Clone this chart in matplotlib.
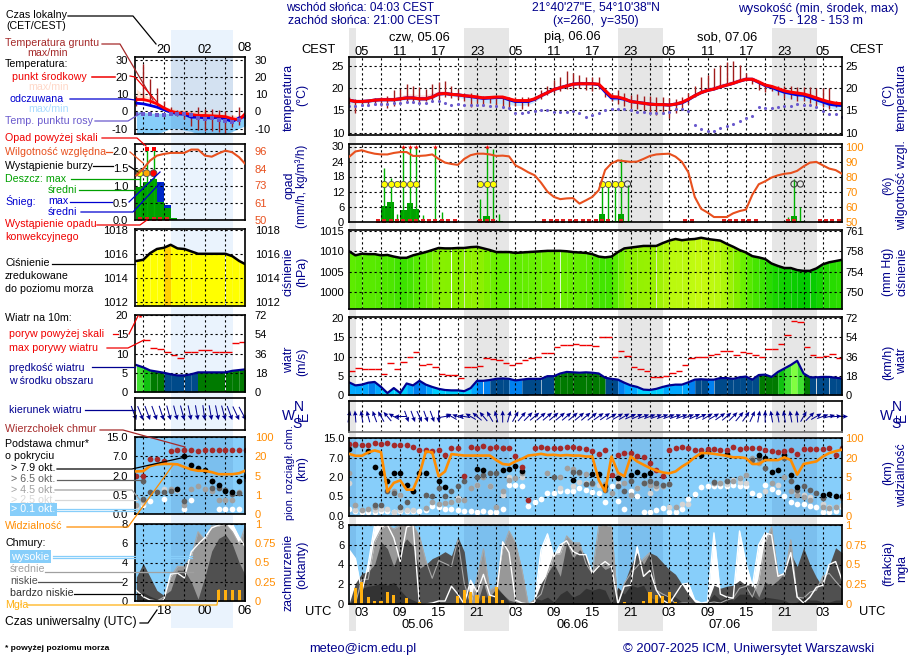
import numpy as np
import matplotlib
matplotlib.use('Agg')
import matplotlib.pyplot as plt
from matplotlib.lines import Line2D

plt.rcParams['font.family'] = ['Liberation Sans', 'DejaVu Sans']
W, H = 910, 660
FS = 9.0
TFS = 8.0
LFS = 7.7
NAVY = '#00008b'
ORANGE = '#ff8c00'
RHC = '#e8501e'
SKY = '#87cefa'

# ---------------------- main meteogram, hourly from 01 UTC 05.06 ----------------------
t_mean = [17.3,17.0,17.0,17.1,17.3,17.4,17.4,17.4,17.6,17.8,17.8,17.6,17.6,18.0,18.7,18.8,18.6,18.5,18.3,18.2,18.0,17.8,17.9,18.0,18.0,17.6,17.2,17.2,17.2,17.6,18.3,19.0,19.7,20.1,20.5,20.9,21.0,21.0,21.0,20.9,19.5,18.1,18.0,17.6,17.0,16.8,16.6,16.4,16.3,16.3,16.2,16.4,16.8,17.5,18.3,19.0,19.5,19.8,20.3,20.7,21.1,21.6,22.0,22.0,21.4,20.7,20.4,19.9,19.4,19.1,18.9,18.7,18.3,17.8,17.3,16.9,16.6,16.5]
t_app = [17.3,17.0,17.0,17.1,17.3,17.4,17.4,17.4,17.6,17.8,17.8,17.6,17.6,18.0,18.7,18.8,18.6,18.5,18.3,18.1,17.9,17.7,17.8,17.9,17.9,17.4,17.0,17.0,17.0,17.5,18.3,19.0,19.7,20.1,20.5,20.9,21.0,21.0,21.0,20.8,19.2,17.8,17.8,17.5,17.0,16.8,16.6,16.4,16.3,16.3,16.2,16.4,16.7,17.4,18.3,19.0,19.5,19.8,20.3,20.7,21.1,21.6,22.0,22.0,21.3,20.6,20.2,19.6,19.1,18.8,18.5,18.4,17.9,17.4,16.9,16.4,16.2,16.1]
t_hi = [17.5,17.3,17.3,17.5,17.8,18.0,18.0,18.0,18.3,18.7,18.7,18.5,18.5,19.0,19.4,19.4,19.1,18.9,18.6,18.4,18.2,18.0,18.2,18.3,18.3,17.9,17.6,17.6,17.7,18.1,18.8,19.6,20.2,20.7,21.1,21.5,21.6,21.5,21.4,21.2,19.9,18.5,18.4,18.0,17.4,17.2,17.0,16.8,16.7,16.7,16.6,16.9,17.3,18.0,18.8,19.7,20.2,20.5,21.0,21.4,21.8,22.3,22.7,22.6,22.0,21.2,20.8,20.3,19.8,19.5,19.3,19.1,18.7,18.2,17.7,17.3,17.0,16.9]
t_lo = [16.8,16.6,16.6,16.7,16.9,17.0,17.0,17.0,17.2,17.4,17.4,17.2,17.2,17.6,18.3,18.4,18.2,18.0,17.6,17.3,17.0,16.8,16.6,16.6,16.5,16.3,16.1,16.1,16.3,16.9,17.9,18.7,19.4,19.8,20.3,20.7,20.8,20.8,20.8,20.5,18.8,17.2,17.2,17.1,16.7,16.5,16.3,16.1,16.0,16.0,15.9,16.1,16.4,17.2,18.0,18.8,19.3,19.6,20.1,20.5,20.9,21.4,21.8,21.7,21.0,20.2,19.6,18.8,18.0,17.6,17.3,17.3,17.0,16.5,16.0,15.6,15.2,15.0]
g_max = [18,17.5,17.3,17.3,17.8,18,18.2,19.5,19.8,21,20.5,20.3,19.8,21,21.5,21.7,20.5,19.8,19,18.8,18.6,18.3,18.3,18.3,18.3,18,18,18,18,18.3,19.5,20.5,21.8,22.6,23.8,23.5,23,22.6,22.5,22.5,20,19,19.5,18.8,18.5,18.7,18.3,18.2,18,18,17.8,17.5,18,19,20.5,22.6,23,24.5,25.3,25.8,26.2,25.2,23.5,22.3,21.5,21,20.8,20.5,20.5,20.5,20.3,20.3,20.2,20,20,20,17,16.5]
g_min = [16.5,14.4,16,16,16.2,16,15.6,16,17,16.8,16.8,16.8,17,17.3,17.5,18,17.7,17.6,17,15.8,16.6,16,16.6,16.2,15.8,15.2,16,15.3,16,17,17.5,18.4,19,19.3,19.8,20,20,19.5,19.3,19.8,18,17,16.4,16,15.5,15.3,15,14.5,14,14.2,13.3,14.5,15.5,16.5,18,19,19.5,20,20.5,21,21.3,21.6,21.7,21,19.7,19.2,19.4,18.5,17.8,17.5,17.2,17.2,16.7,16,15.8,15.2,15.7,16]
t_dew = [16,16,16.2,16.3,16.5,16.5,16.5,16.6,16.7,16.9,16.8,16.6,16.7,17,17,16.7,16.2,16.4,16.3,16.3,16.1,16.1,15.9,16,15.7,15.6,14.3,14.4,14.6,14.8,15,15,14.6,14.6,14.7,14.8,14.4,13.5,13.9,14.5,15,15.2,15.2,15.2,15.0,14.7,14.7,14.5,14.5,14.5,14.7,15.2,15.2,14.9,11.8,10.7,10.4,10.4,11.1,11.4,12,12.7,13.2,13.7,15.7,15.6,15.6,15.7,16,16,16.4,16.2,16.2,15.8,14.9,14.2,14.2,13.5]

rh = [93.3,97,97.8,96.5,95.5,95,95,96,96.6,96.6,94,94,94.3,95,92,89.5,88.6,88,92,94.5,95.5,95.5,95,94,94.2,93.7,87.7,85.5,83,81,76,70,66.5,65,65.5,65.7,62,64.2,66.5,71,84.5,89,91,90.5,90,90.2,92,94,95,95.3,95.5,93.5,90,83,66.5,58.5,56,53,53,53,55.5,57,58,68,75,77,79.5,81,82,82.5,84,87,89.5,90,87.7,85.5,84.5,82]
precip_t = [6.5,7.5,8.5,9.5,10.5,11.5,12.5,14.5,15.5,21.5,22.5,23.5,24.5,40.5,41.5,42.5,43.5,44.5,69.5,70.5,71.5]
rain_mean = [6.3,8.0,0.2,4.7,7.6,5.0,0.2,0.2,0.1,0.1,2.2,0.2,0.1,3.2,0.4,0.3,3.0,0.2,0.1,2.2,0.1]
rain_max = [21.5,17.5,3,32,32,32,2.5,32,4,9.2,32,29,3,16,15,16,25,14.5,2,17,6]
storm_t = [6.5,7.5,8.5,9.5,10.5,11.5,21.5,22.5,23.5,40.5,41.5,42.5,43.5]
storm_open_t = [44.5,70.5,71.5]
conv_t = [5.5,6.5,7.5,8.5,9.5,10.5,11.5,12.5,13.5,14.5,15.5,16.5,17.5,21.5,22.5,23.5,31.5,32.5,33.5,34.5,35.5,36.5,37.5,38.5,39.5,40.5,41.5,43.5,53.5,54.5,59.5,60.5,61.5,62.5,63.5,64.5,69.5,70.5,74.5,75.5,76.5,77.5]

pres = [1010,1009,1009.4,1009.3,1009.3,1009,1009.1,1008.7,1008.4,1008.4,1009,1009.4,1009.8,1010.3,1010.8,1010.7,1010.7,1010.8,1010.8,1011,1011.1,1010.7,1010.3,1009.8,1009.8,1009.8,1009.6,1009.7,1009.8,1009.9,1010,1010.1,1010.1,1010.1,1010,1009.8,1009.7,1009.6,1009.3,1008.7,1008.5,1008.7,1009.8,1010.7,1010.9,1011.1,1011.3,1011.3,1011.3,1012,1012.6,1013,1012.7,1012.9,1013,1013.3,1013,1012.8,1012.6,1011.8,1011.1,1010.3,1009.7,1008.8,1008.5,1008.1,1007,1006.4,1005.9,1005.9,1005.4,1005.2,1005.2,1005.8,1006.8,1007.3,1007.6,1007.9]
wind = [3.3,2.5,2.7,3.2,3.4,2.1,0.5,1.8,0.5,3,2.5,3.7,2.7,2.1,1.6,1.3,1.2,1.2,1,1.8,3.7,3.7,3.9,4.2,4.3,4.2,3.8,4,4.2,4.2,4.2,4.9,4.9,5.6,6,5.9,5.8,5.9,5.8,5.6,4.5,4.2,4,3.2,2.5,2.1,1.4,1.3,1.6,2.1,2.5,2.7,2.7,3.3,4,4.1,4,4,4.4,4.4,4.2,4.6,4.8,4,5.2,5.3,4.7,6,6.9,7.8,8.9,5.6,4.6,4.6,4.7,4.7,4.5,4.3]
gust = [6.3,7.1,6.8,6.8,6.8,5.5,8.4,6.8,8.7,10,11.3,7.7,8,7.4,5.5,5.2,5.2,4.5,7.4,7.4,7.6,9.5,9.3,9,8.4,7.9,8.4,9,9.5,9.8,11,11,12.4,13,13,13.3,13,13,12.7,15,15,10,11.5,10.2,7.2,6.7,6.3,4.8,4.8,5,5.8,6.3,7.9,9.5,10,10,10.4,10.7,11.4,11.4,10.3,11.1,10.9,10.4,10,12.1,12.1,13.4,15.5,19.3,19.1,12.5,10.5,10,10.2,10.6,9.7]
wind_to = [10,355,350,345,340,330,320,300,270,160,160,155,160,160,180,80,300,290,280,300,310,320,330,345,0,15,30,40,45,50,50,50,50,50,50,50,50,50,50,55,55,60,60,60,65,65,70,70,70,70,70,70,70,70,65,65,60,60,55,50,45,40,35,25,10,0,350,350,350,350,355,30,45,60,70,75,85,90]

cloud_top = [12.7,12.7,12,12.2,12.8,12.7,13,12.1,12.1,12,11.4,10.2,9.9,9.5,10.2,8.2,10.9,10.9,2.2,11.4,11,11.6,10.9,11.4,11.1,10.9,7.8,4.5,0.4,10.9,11.4,11,10.9,11,11.4,11.4,10.9,10.5,9.5,8.5,10.2,2.6,8.2,8.9,9,7.7,7.3,5.7,3.9,2.3,10.2,10.9,11.4,10.9,10.2,9.9,10.5,10.5,10.2,10.2,11.4,10.5,10.9,10.9,10.9,10.2,9.5,9.2,9.7,10.2,8.5,10.4,10.4,10.4,10.4,10.9,8,10.9]
b79_t = [1,4,5,6,7,8,9,10,11,12,13,15,16,21,22,25,26,27,28,36,39,41,40,43,45,46,47,48,56,57,60,65,66,67,68,69,70,71,75,76,77,78]
b79_km = [10.4,9.5,4.6,3,1.66,2.9,3,1.4,0.9,3,3,1.7,1.2,4,3.9,3.7,4.1,4.7,3.5,1.8,2.8,1.3,2.8,1.9,2.5,3.2,2.5,3,8,9.6,8.5,8,7,3.2,3.7,8,2.4,1.2,0.6,0.7,0.55,0.55]
b65_t = [2,5,6,7,8,9,10,11,13,14,15,16,17,18,19,21,22,23,24,25,33,36,37,38,39,41,43,44,45,47,48,49,50,51,58,60,64,65,66,69,70,71,72,73,74,75]
b65_km = [12,0.28,0.28,0.9,0.76,0.24,0.37,0.9,0.63,0.55,1.15,0.55,0.9,1.3,1.7,2.1,2.6,3,3,10.9,2.1,3.2,3.2,1.5,1.55,1.0,1.3,0.9,1.7,1.55,1.7,1.55,1.4,1.5,1.65,1.7,6.4,6.8,4.3,6.8,1.7,1.0,1.3,1.0,0.76,0.46]
b45_t = [1,2,3,4,5,8,9,13,14,15,16,17,18,19,20,21,22,23,24,25,26,27,28,32,34,35,36,37,38,39,41,42,43,44,45,46,47,48,49,50,51,52,58,59,60,61,62,63,64,65,67,69,70,71,72,73,75,76,77,78]
b45_km = [3,0.28,0.15,0.19,0.24,0.9,0.63,0.2,0.37,0.32,0.33,0.37,0.41,0.4,1.15,1.4,2.1,1.3,0.24,0.9,1.8,1.9,3,3,2,4.3,4,3,2.8,1.5,1.5,0.76,2.6,1.55,0.6,1.15,1.55,1.4,1.3,1.3,1.5,0.24,1.55,1.55,1.7,1.7,1.9,2.6,6.8,5.6,1.55,2.1,0.9,0.63,0.5,0.4,0.24,0.2,0.24,0.46]
b25_t = [1,2,5,6,7,8,9,10,11,18,21,23,25,26,28,34,36,37,38,40,41,43,45,46,48,49,50,51,53,54,58,59,60,61,62,63,66,68,71,72,73,75,76,77,78]
b25_km = [1.55,0.15,0.15,0.19,0.17,0.1,0.15,0.15,0.15,0.46,1.4,1.3,0.63,2.1,2.1,1.15,1.3,1.6,1.55,1.4,1.3,1.55,0.63,1.15,0.76,1.15,1.3,0.24,0.32,0.32,1.55,1.55,1.5,1.8,1.6,1.55,0.9,1.4,0.76,0.6,0.5,0.32,0.24,0.24,0.28]
b01_t = list(range(1, 79))
b01_km = [0.18,0.14,0.1,0.1,0.1,0.13,0.12,0.1,0.12,0.12,0.12,0.13,0.15,0.25,0.22,0.19,0.18,0.15,0.14,0.14,0.1,0.13,0.1,0.1,0.18,1.4,1.4,1.3,0.25,0.35,0.43,0.8,0.8,0.9,0.9,0.95,1.15,1,0.85,0.8,0.35,1.3,0.38,0.18,0.9,0.55,0.1,0.1,0.15,0.2,0.1,0.11,0.17,0.43,0.7,1.2,1.3,1.3,1.3,1.3,1.4,1.3,1.3,0.8,0.6,1.4,1.1,0.85,0.55,0.35,0.32,0.3,0.26,0.22,0.11,0.11,0.13,0.24]
vis = [35,27,27,41,49,42,2,3.8,4.3,2.4,2.4,6.8,45,41,5.5,9.3,34,31,28,28,28,28,28,18,15,14.4,17,19,28,31,35,30,31,28,30,28,28,24,24,4.4,2,24,8.5,5.5,24,17,14.4,11.9,10,8.5,7.8,9.3,13,16,21,38,38,35,31,27,21,21,19.5,15,15,18,18,18,21,18,6.8,15,16,17,24,38,46,52]

high = [5.5,4.6,1.2,4.0,8,8,8,6.7,4.3,7.8,8,0,0,0.1,0.3,0.3,1.8,1,0,2.4,1.2,3,0.9,0.7,6.3,5.2,0.4,0.1,0,0.2,5.5,7.1,4.8,6,6.4,5.3,5,5,3.1,3.8,4.3,3.8,0,1.8,1.9,5.8,2.8,3.4,1.4,0.4,0,1,2,2.1,0.4,0.1,0.2,7.2,1,0.7,0.6,7.4,4.1,1.8,6,7.2,7,2.8,3.1,5.2,0.7,0.1,0.7,1.7,1.9,4,4.3,2.4]
mid = [0,0,2.5,2.5,6.3,7.6,8,7.6,8,8,8,6.9,4.4,2.6,4.4,4.1,3.8,6.5,2.1,0,2.7,5.6,1.4,1.8,5.6,7.4,6.2,3.5,0,0.4,1,3.1,5,5.1,6.9,6.2,6.2,4.1,3.1,7.9,8,7.8,0,2.1,3.1,3.8,4.6,5.2,1.4,1,0.7,0,0.1,0.1,0,0,0.1,0.2,0.1,0.4,0.6,1.6,1.8,0.7,2.4,6.2,7.8,3.1,2.8,6.5,0.7,0.6,1.2,1.4,2.8,3.1,2.3,1.6]
low = [0,2.1,3.1,3.3,4,6.3,5.6,3.8,5.7,6.6,5.9,3.6,4,4.6,4.9,5.3,4.9,6.8,5.3,0,0,2.1,0,1.8,1.0,0.4,0.2,0,0,0.4,2.1,3.1,4.1,2.8,6.2,4.6,5.5,5,3.1,4.1,3.5,3.8,0,2.1,3.9,5.2,4,5.2,4.9,4.2,3.5,3,2,1,0.2,0,0.2,1.9,1.6,1.8,1.9,2.4,1.9,2,0.7,2.2,1.9,2.4,3.1,5.1,3.8,5.7,4,2.7,1.7,3.9,5.7,5.2]
vlow = [0,0.7,1.6,1.8,1.9,2.1,1.9,2.2,1.4,0.7,0.4,0.1,0,0,0,0,0,0,0,0,0.1,0.7,0.7,1.6,1.0,0.2,0,0,0,0.6,0.4,0.7,0.2,1,1.4,0.7,1,1.6,1.4,1.6,1.4,0,1.7,1,1.9,1.7,1.9,0.7,0.4,0.9,1,0.7,0.2,0,0,0,0.2,1,0.4,0.7,0.4,1,1,0.9,0.4,0.7,0.6,0.5,0.4,0,0.2,0.7,0.4,0.4,0.2,0.2,0.4,0.4]
fog_t = [2,3,4,5,6,7,8,10,12,18,19,20,21,22,23,24,25,44,47,48,49,50,51,52]
fog = [0.2,0.28,0.09,0.035,0.035,0.15,0.12,0.08,0.02,0.1,0.18,0.15,0.11,0.1,0.1,0.22,0.05,0.02,0.04,0.15,0.12,0.1,0.15,0.03]

# ---------------------- small reference strip, hourly 14 UTC - 06 UTC ----------------------
l_t = list(range(14, 31))
l_mean = [6.9,6.9,6,4.4,2.1,0.2,-0.8,-1,-1.7,-2.3,-2.3,-2.5,-2.7,-3,-4.2,-4.8,-0.8]
l_app = [4.8,4.4,3.5,2.5,1,-0.4,-1.3,-1.7,-3.3,-3.3,-3.7,-3.7,-3.3,-4.4,-5.8,-3.7,-2.9]
l_hi = [13,10,8,6,3,2,1,1,0.5,0,0,-0.5,-1,-1.5,-2,-2.5,-0.5]
l_app_hi = [0,-0.5,-1,-1,-1,-1,-1.5,-2,-3,-3,-3.2,-3.2,-3,-4,-5,-3,-2]
l_app_lo = [-13.2,-13.2,-13.2,-13.2,-11.5,-9.8,-9.8,-10.8,-11.5,-13.2,-13.2,-13.2,-13.2,-13.2,-11.5,-9.8,-8]
l_gmax = [9,27.5,19,13.6,6,2.5,1,-0.4,-0.4,2.5,1.5,1.5,1,0.5,-2,2.5,-1]
l_gmin = [3,6,3,2.5,1.5,-2.3,-2.9,-4.2,-8.6,-11,-11.4,-11.4,-12,-12.5,-9,-8,-2.3]
l_dew = [-1.5,-1.5,-1.5,-2.3,-2.3,-1.5,-1.5,-1.5,-2.3,-3.6,-4.2,-3.6,-5.2,-5.6,-6.2,-5.2,-3.3]
l_rh = [79.6,84,89.4,92.7,93.8,94.5,94.5,94.5,96.7,96.7,92.7,92,94.2,96,94.9,91.6,86.6]
l_rain_t = [14.5,15.5,16.5,17.5,18.5,19.5]
l_rain = [0.96,1.1,1.18,0.53,0.34,0.07]
l_snow = [0.96,1.1,1.18,1.1,0.43,0.07]
l_rmax_t = [14.5,15.5,16.5]
l_rmax = [1.35,2.5,2.5]
l_storm_colors = ['#ffff00', '#ffa500', '#ff0000']
l_conv_t = [14.5,15.5,16.5,17.5,18.5]
l_pres = [1015.4,1015.5,1016.05,1016.4,1016.5,1016.75,1016.45,1016.4,1016.2,1016,1016,1016,1016,1016,1015.8,1015.4,1015.1]
l_wind = [7,6.4,5.6,5.3,5,4.6,4.3,4.3,4.6,5.1,5.1,5.1,5.1,5.1,5.5,5.7,5.9]
l_gust = [19.8,13.5,11.5,11.1,10.5,9.6,8.8,10.5,10.5,10.9,10.9,10.5,10.5,10.5,12.7,13]
l_wind_to = [160,158,160,160,162,165,165,165,168,170,172,170,168,165,160,155,152]
l_top_t = [14,15,16,17,18,19,20,21,22,23,24,25,26,27,28,29,30]
l_top = [2,2,6.4,6.4,5.8,9.1,9.8,9.8,9.8,9.1,9.8,9.8,9.8,9.8,9.8,9.8,9.8]
l_b79_t = [20,21,22,23,24,25,26,27,28,29,30]
l_b79 = [0.95,7.1,4.8,3.9,3.3,1.55,1.25,0.8,0.7,1.55,1.95]
l_b65_t = [15,15,16,17,18,19,21,25,25,26,27,28,29]
l_b65 = [1.55,0.38,0.7,0.7,0.7,0.8,0.35,1.55,1,1,0.85,0.55,0.6]
l_b45_t = [14,15,19,20,21,22,23,24,25,26,27,28,29,30]
l_b45 = [0.23,0.37,0.95,0.95,0.23,0.95,1.2,0.95,0.8,0.37,0.37,0.37,0.7,1.7]
l_b25_t = [14,15,18,19,20]
l_b25 = [0.19,0.28,0.95,0.9,0.9]
l_b01_t = [15,16,18,21,22,26,27,28,29]
l_b01 = [0.24,0.35,0.4,0.12,0.37,0.12,0.12,0.12,0.12]
l_vis = [8.2,8.4,12.4,13.7,14,14,13.7,11.6,9.7,8.7,8.7,7.6,6,6,6,6.8,9]
l_high = [1.1,0.45,0.1,0,0.1,2.8,2.9,2.4,5.1,5.9,6.6,7.6,7.9,8,8,6.6,5.5]
l_mid = [0,0,0,0,0.4,2.5,3.6,3.6,4.6,7.2,6.3,7.8,7.8,8,7.2,5.9,8]
l_low = [2.5,3.9,2.5,1.1,0.6,1.1,3.2,3.2,2,0.2,2.5,5.2,6.5,6.9,5.9,4,2.5]
l_vlow = [0.6,0.9,0.5,0.2,0,0,0,0,0,0,0,0,0,0,0,0,0]
l_fog_t = [26,27,28,29]
l_fog = [0.14,0.14,0.14,0.14]

# tick labels
km_knots = [0, 0.5, 2, 7, 15]
vis_knots = [0, 1, 5, 20, 100]
pos_knots = [0, 1, 2, 3, 4]
utc_main = ['03','09','15','21','03','09','15','21','03','09','15','21','03']
cest_main = ['05','11','17','23','05','11','17','23','05','11','17','23','05']

fig = plt.figure(figsize=(W/100, H/100), dpi=100, facecolor='white')


def axpx(x0, x1, ytop, ybot, **kw):
    return fig.add_axes([x0/W, 1-ybot/H, (x1-x0)/W, (ybot-ytop)/H], **kw)


def txt(x, y, s, color='black', ha='left', size=FS, **kw):
    fig.text(x/W, 1-y/H, s, color=color, ha=ha, va='center', fontsize=size, **kw)


def conn(xs, ys, color='black', lw=0.9):
    fig.add_artist(Line2D([x/W for x in xs], [1-y/H for y in ys], color=color, lw=lw, transform=fig.transFigure, zorder=6))


def hrs(series, start=1):
    return np.arange(start, start+len(series))


def style(ax, xlim, yticks, ylabels, ylim, xt, lp=3.5):
    ax.set_xlim(*xlim)
    ax.set_ylim(*ylim)
    ax.patch.set_alpha(0)
    ax.set_yticks(yticks)
    ax.set_yticklabels(ylabels, fontsize=TFS)
    ax.set_xticks(xt)
    ax.set_xticklabels([])
    ax.tick_params(length=0, pad=lp)
    ax.set_axisbelow(False)
    ax.grid(True, color='black', lw=0.8, ls=(0, (2, 2.5)))
    for s in ax.spines.values():
        s.set_linewidth(1.2)
        s.set_zorder(8)


def right(ax, yticks, labels, ylim, color='black', pad=2.5):
    a2 = ax.twinx()
    a2.set_ylim(*ylim)
    a2.set_yticks(yticks)
    a2.set_yticklabels(labels, fontsize=TFS, color=color)
    a2.tick_params(length=0, pad=pad)
    a2.patch.set_alpha(0)
    for s in a2.spines.values():
        s.set_visible(False)
    return a2


def pres_color(p):
    k = [1005, 1008, 1009, 1010, 1011, 1013, 1015, 1016.61, 1016.62]
    r = [0, 48, 80, 106, 144, 192, 255, 255, 255]
    g = [200, 224, 232, 240, 240, 250, 255, 255, 208]
    b = [0, 0, 0, 0, 0, 16, 0, 0, 0]
    return (np.interp(p, k, r)/255, np.interp(p, k, g)/255, np.interp(p, k, b)/255)


def wind_color(v):
    edges = [1, 2, 3, 4, 4.9, 5.95, 6.5, 7.5, 8.3]
    cols = ['#00ffff', '#00d0ff', '#00a8ff', '#0080f0', '#004a8a', '#007a00', '#10c010', '#40e030', '#60f030', '#80ff40']
    return cols[int(np.searchsorted(edges, v))]


def band_fill(ax, t, y, base, colfunc):
    for i in range(len(t)-1):
        ax.fill_between(t[i:i+2], y[i:i+2], base, color=colfunc((y[i]+y[i+1])/2), lw=0, zorder=1, antialiased=False)


# --- background strips ---
nights = [(1, 2.05), (19, 26.05), (43, 50.05), (67, 74.05)]
main_x = (1, 78)
bg = axpx(349, 842, 28, 631)
bg.set_xlim(*main_x); bg.axis('off')
for a, b in nights:
    bg.axvspan(a, b, color='#e6e6e6', lw=0)
left_x = (13.8, 29.85)
bgl = axpx(135, 245, 30, 628)
bgl.set_xlim(*left_x); bgl.axis('off')
bgl.axvspan(19, 28.05, color='#eaf3fd', lw=0)

mg = list(range(3, 78, 3))
lg = [15, 18, 21, 24, 27]

# ---------------- MAIN PANELS ----------------
T = hrs(t_mean)
# temperature
ax = axpx(349, 842, 57, 135)
style(ax, main_x, [10, 15, 20, 25], ['10', '15', '20', '25'], (9.44, 27.03), mg)
ax.fill_between(T, t_mean, t_hi, color='#ffdcdc', lw=0, zorder=1)
ax.fill_between(T, t_lo, t_app, color='#c4e6ff', lw=0, zorder=1)
ax.vlines(hrs(g_max), g_min, g_max, color='#a01c1c', lw=1.0, zorder=3)
ax.plot(hrs(t_app), t_app, color='#0000e0', lw=2.2, zorder=3)
ax.plot(T, t_mean, color='#ff0000', lw=2.2, zorder=4)
ax.scatter(hrs(t_dew), t_dew, s=5, color='#6a5acd', marker='o', lw=0, zorder=4)
ax.xaxis.tick_top()
ax.set_xticks(mg)
ax.set_xticklabels([l for i in range(13) for l in (cest_main[i], '')][:len(mg)], fontsize=FS+0.3)
ax.tick_params(axis='x', pad=-0.5)
right(ax, [10, 15, 20, 25], ['10', '15', '20', '25'], (9.44, 27.03))

# precipitation
ax = axpx(349, 842, 144, 221.5)
style(ax, main_x, [0, 6, 12, 18, 24, 30], ['0', '6', '12', '18', '24', '30'], (0, 31), mg)
ax.bar(precip_t, rain_mean, width=1, color='#00a000', lw=0, zorder=2)
ax.vlines(precip_t, 0, np.minimum(rain_max, 30), color='#00b000', lw=1.0, zorder=3)
ax.scatter([p for p, m in zip(precip_t, rain_max) if m > 30], [30]*sum(m > 30 for m in rain_max), s=14, marker='*', color='red', lw=0, zorder=5)
ax.scatter(conv_t, [0.3]*len(conv_t), s=6, marker='s', color='#e02020', lw=0, zorder=5)
ax.scatter(storm_t, [15]*len(storm_t), s=20, facecolor='#ffff00', edgecolor='#505050', lw=0.6, zorder=5)
ax.scatter(storm_open_t, [15]*len(storm_open_t), s=20, facecolor='none', edgecolor='#404040', lw=0.8, zorder=5)
a2 = right(ax, [50, 60, 70, 80, 90, 100], ['50', '60', '70', '80', '90', '100'], (50, 102), color=ORANGE)
a2.plot(hrs(rh), rh, color=RHC, lw=1.5, zorder=6)

# pressure
ax = axpx(349, 842, 230, 308.5)
style(ax, main_x, [1000, 1005, 1010, 1015], ['1000', '1005', '1010', '1015'], (996, 1015.2), mg)
band_fill(ax, hrs(pres), pres, 996, pres_color)
ax.plot(hrs(pres), pres, color='black', lw=1.8, zorder=4)
right(ax, [1000, 1005, 1010, 1015], ['750', '754', '758', '761'], (996, 1015.2))

# wind
ax = axpx(349, 842, 317, 395)
style(ax, main_x, [0, 5, 10, 15, 20], ['0', '5', '10', '15', '20'], (0, 20.3), mg)
band_fill(ax, hrs(wind), wind, 0, wind_color)
ax.plot(hrs(wind), wind, color='#000090', lw=1.6, zorder=4)
ax.hlines(gust, hrs(gust), hrs(gust)+1, color='#f00000', lw=1.0, zorder=4)
right(ax, [0, 5, 10, 15, 20], ['0', '18', '36', '54', '72'], (0, 20.3))

# wind direction
ax = axpx(349, 842, 401, 432)
style(ax, main_x, [], [], (0, 1), mg)
rad = np.deg2rad(wind_to)
ax.quiver(hrs(wind_to), [0.5]*len(wind_to), 12*np.sin(rad), 12*np.cos(rad), angles='uv', scale=1, scale_units='dots',
          units='dots', width=1.0, headwidth=4.5, headlength=5, headaxislength=4.5, pivot='mid', color='#000090', zorder=4, clip_on=False)
ax.spines['bottom'].set_color('#707070')

# cloud heights
def kmf(v): return np.interp(v, km_knots, pos_knots)
def kmi(v): return np.interp(v, pos_knots, km_knots)
def vf(v): return np.interp(v, vis_knots, pos_knots)
def vi(v): return np.interp(v, pos_knots, vis_knots)

def cloud_height_panel(ax, xlim, xt, tops, b79, b65, b45, b25, b01, vs, xvis, size, rpad, lp):
    style(ax, xlim, [0], ['0'], (0, 1), xt, lp)
    ax.set_yscale('function', functions=(kmf, kmi))
    ax.set_ylim(0, 15)
    ax.set_yticks([0, 0.5, 2, 7, 15])
    ax.set_yticklabels(['0.0', '0.5', '2.0', '7.0', '15.0'], fontsize=TFS)
    ax.yaxis.set_minor_locator(matplotlib.ticker.NullLocator())
    ax.tick_params(length=0, pad=lp)
    ax.patch.set_alpha(1); ax.patch.set_facecolor(SKY)
    for (tt, vv), c in zip([b01, b25, b45, b65, b79], ['white', '#d4d4d4', '#a0a0a0', '#606060', 'black']):
        ax.scatter(tt, vv, s=size, color=c, lw=0, zorder=3)
    ax.scatter(tops[0], tops[1], s=size, color='#a52a2a', lw=0, zorder=3)
    a2 = ax.twinx()
    a2.set_yscale('function', functions=(vf, vi))
    a2.set_ylim(0, 100)
    a2.set_yticks([0, 1, 5, 20, 100])
    a2.set_yticklabels(['0', '1', '5', '20', '100'], fontsize=TFS, color=ORANGE)
    a2.yaxis.set_minor_locator(matplotlib.ticker.NullLocator())
    a2.tick_params(length=0, pad=rpad)
    a2.patch.set_alpha(0)
    a2.plot(xvis, vs, color=ORANGE, lw=1.9, zorder=5)
    for s in a2.spines.values():
        s.set_visible(False)


def shade_spans(ax, spans):
    for a, b in spans:
        ax.axvspan(a, b, facecolor='#3060a0', alpha=0.13, lw=0, zorder=2.2)

ax = axpx(349, 842, 438, 516)
cloud_height_panel(ax, main_x, mg, (hrs(cloud_top), cloud_top), (b79_t, b79_km), (b65_t, b65_km), (b45_t, b45_km),
                   (b25_t, b25_km), (b01_t, b01_km), vis, hrs(vis), 17, 2.5, 3.5)
shade_spans(ax, nights)

# cloud cover
def clouds_panel(ax, xlim, xt, t, hi, md, lo, vl, ft, fg, fw, spans, lp, rpad):
    style(ax, xlim, [0, 2, 4, 6, 8], ['0', '2', '4', '6', '8'], (0, 8), xt, lp)
    ax.patch.set_alpha(1); ax.patch.set_facecolor(SKY)
    for a, b in spans:
        ax.axvspan(a, b, facecolor='#3060a0', alpha=0.13, lw=0, zorder=0.5)
    ax.fill_between(t, hi, 0, color='white', lw=0, zorder=1)
    ax.fill_between(t, md, 0, color='#989898', lw=0, zorder=1.1)
    ax.fill_between(t, lo, 0, color='#505050', lw=0, zorder=1.2)
    ax.fill_between(t, vl, 0, color='#333333', lw=0, zorder=1.3)
    ax.plot(t, md, color='#a8a8a8', lw=0.8, zorder=1.4)
    ax.plot(t, hi, color='white', lw=1.0, zorder=1.5)
    right(ax, [0, 2, 4, 6, 8], ['0', '0.25', '0.5', '0.75', '1'], (0, 8), color=ORANGE, pad=rpad)
    ax.bar(ft, np.array(fg)*8, width=fw, color='#ffb010', lw=0, zorder=3)

ax = axpx(349, 842, 525, 604)
clouds_panel(ax, main_x, mg, hrs(high), high, mid, low, vlow, fog_t, fog, 0.5, nights, 3.5, 2.5)
ax.set_xticks(mg)
ax.set_xticklabels([l for i in range(13) for l in (utc_main[i], '')][:len(mg)], fontsize=FS+0.3)
ax.tick_params(axis='x', pad=2.5)

# ---------------- LEFT PANELS ----------------
lp, rp = 5, 7
ax = axpx(135, 245, 57, 134.3)
style(ax, left_x, [-10, 0, 10, 20, 30], ['-10', '0', '10', '20', '30'], (-13.2, 31.5), lg, lp)
ax.fill_between(l_t, l_mean, l_hi, color='#ffe2d2', lw=0, zorder=1)
ax.fill_between(l_t, l_app_lo, l_app_hi, color=SKY, lw=0, zorder=1)
ax.axvspan(19, 28.05, facecolor='#3060a0', alpha=0.12, lw=0, zorder=1.1)
ax.vlines(l_t, l_gmin, l_gmax, color='#a01c1c', lw=1.0, zorder=3)
ax.plot(l_t, l_app, color='#0000e0', lw=2.0, zorder=3)
ax.plot(l_t, l_mean, color='#ff0000', lw=2.0, zorder=4)
ax.scatter(l_t, l_dew, s=5, color='#6a5acd', marker='s', lw=0, zorder=4)
ax.xaxis.tick_top()
ax.set_xticks(lg)
ax.set_xticklabels(['', '20', '', '02', ''], fontsize=FS+0.3)
ax.tick_params(axis='x', pad=0.5)
right(ax, [-10, 0, 10, 20, 30], ['-10', '0', '10', '20', '30'], (-13.2, 31.5), pad=rp)

ax = axpx(135, 245, 144, 220)
style(ax, left_x, [0, 0.5, 1, 1.5, 2], ['0.0', '0.5', '1.0', '1.5', '2.0'], (0, 2.21), lg, lp)
ax.bar(l_rain_t, l_snow, width=1, color='#0028c8', lw=0, zorder=2)
ax.bar(l_rain_t, l_rain, width=1, color='#00a000', lw=0, zorder=2.1)
ax.vlines(l_rmax_t, 0, np.minimum(l_rmax, 2.1), color='#00b000', lw=1.0, zorder=3)
ax.scatter(l_rmax_t[1:], [2.07, 2.07], s=10, marker='s', color='red', lw=0, zorder=5)
ax.scatter(l_rmax_t, [1.36]*3, s=24, c=l_storm_colors, edgecolor='#505050', lw=0.6, zorder=5)
ax.scatter(l_conv_t, [0.02]*5, s=5, marker='s', color='#e02020', lw=0, zorder=5)
a2 = right(ax, [50, 61, 73, 84, 96], ['50', '61', '73', '84', '96'], (50, 100.4), color=RHC, pad=rp)
a2.plot(l_t, l_rh, color=RHC, lw=1.5)

ax = axpx(135, 245, 229, 306)
style(ax, left_x, [1012, 1014, 1016, 1018], ['1012', '1014', '1016', '1018'], (1011.64, 1018.07), lg, lp)
band_fill(ax, l_t, l_pres, 1011.64, pres_color)
ax.plot(l_t, l_pres, color='black', lw=1.8, zorder=4)
right(ax, [1012, 1014, 1016, 1018], ['1012', '1014', '1016', '1018'], (1011.64, 1018.07), pad=rp)

ax = axpx(135, 245, 315, 392)
style(ax, left_x, [0, 5, 10, 15, 20], ['0', '5', '10', '15', '20'], (0, 20), lg, lp)
band_fill(ax, l_t, l_wind, 0, wind_color)
ax.plot(l_t, l_wind, color='#000090', lw=1.6, zorder=4)
lgt = np.array(l_t[:len(l_gust)])
ax.hlines(l_gust[1:], lgt[1:], lgt[1:]+1, color='#f00000', lw=1.0, zorder=4)
ax.scatter([14.5], [l_gust[0]], s=10, marker='*', color='red', lw=0, zorder=5)
right(ax, [0, 5, 10, 15, 20], ['0', '18', '36', '54', '72'], (0, 20), pad=rp)

ax = axpx(135, 245, 398, 430)
style(ax, left_x, [], [], (0, 1), lg, lp)
rad = np.deg2rad(l_wind_to)
ax.quiver(l_t, [0.31]*len(l_t), 15*np.sin(rad), 15*np.cos(rad), angles='uv', scale=1, scale_units='dots',
          units='dots', width=1.0, headwidth=5, headlength=5, headaxislength=4.5, pivot='tip', color='#000090', zorder=4, clip_on=False)

ax = axpx(135, 245, 437, 514)
cloud_height_panel(ax, left_x, lg, (l_top_t, l_top), (l_b79_t, l_b79), (l_b65_t, l_b65), (l_b45_t, l_b45),
                   (l_b25_t, l_b25), (l_b01_t, l_b01), l_vis, l_t, 17, rp, lp)
shade_spans(ax, [(19, 28.05)])

ax = axpx(135, 245, 524, 601)
clouds_panel(ax, left_x, lg, l_t, l_high, l_mid, l_low, l_vlow, l_fog_t, l_fog, 0.4, [(19, 28.05)], lp, rp)
ax.set_xticks(lg)
ax.set_xticklabels(['', '18', '', '00', ''], fontsize=FS+0.3)
ax.tick_params(axis='x', pad=3)

# ---------------- TEXT ----------------
txt(245, 48, '08', 'black', 'center', size=FS+0.3)
txt(245, 611, '06', 'black', 'center', size=FS+0.3)
txt(286, 8, 'wschód słońca: 04:03 CEST', NAVY, size=8.45)
txt(288, 21, 'zachód słońca: 21:00 CEST', NAVY, size=8.8)
txt(596, 8, '21°40\'27"E, 54°10\'38"N', NAVY, 'center', size=8.7)
txt(596, 21, '(x=260,  y=350)', NAVY, 'center', size=8.7)
txt(818, 9, 'wysokość (min, środek, max)', NAVY, 'center', size=8.9)
txt(818, 21, '75 - 128 - 153 m', NAVY, 'center', size=8.9)
txt(419, 37, 'czw, 05.06', 'black', 'center', size=FS+0.3)
txt(572, 37, 'pią, 06.06', 'black', 'center', size=FS+0.3)
txt(727, 37, 'sob, 07.06', 'black', 'center', size=FS+0.3)
txt(319, 50, 'CEST', 'black', 'center', size=FS+0.3)
txt(867, 50, 'CEST', 'black', 'center', size=FS+0.3)
txt(318, 612, 'UTC', 'black', 'center', size=FS+0.3)
txt(872, 612, 'UTC', 'black', 'center', size=FS+0.3)
txt(418, 625, '05.06', 'black', 'center', size=FS+0.3)
txt(573, 625, '06.06', 'black', 'center', size=FS+0.3)
txt(725, 625, '07.06', 'black', 'center', size=FS+0.3)
txt(309, 649, 'meteo@icm.edu.pl', NAVY, size=FS+0.3)
txt(623, 649, '© 2007-2025 ICM, Uniwersytet Warszawski', NAVY, size=FS+0.4)
txt(5, 648, '* powyżej poziomu morza', 'black', size=6.1, fontweight='bold')

def rot(x, y, s, size=8.9):
    fig.text(x/W, 1-y/H, s, color=NAVY, ha='center', va='center', rotation=90, fontsize=size)

for x, y, s, z in [(289, 97, 'temperatura', 8.9), (302, 95, '(°C)', 8.9), (289, 185, 'opad', 8.9), (302, 186, '(mm/h, kg/m³/h)', 8.5),
                (289, 272, 'ciśnienie', 8.9), (302, 272, '(hPa)', 8.9), (289, 360, 'wiatr', 8.9), (302, 362, '(m/s)', 8.9),
                (290, 473, 'pion. rozciągł. chm.', 7.9), (302, 469, '(km)', 8.9), (289, 572, 'zachmurzenie', 8.9), (302, 565, '(oktanty)', 8.9),
                (902, 97, 'temperatura', 8.9), (888, 95, '(°C)', 8.9), (902, 185, 'wilgotność wzgl.', 8.9), (888, 185, '(%)', 8.9),
                (902, 272, 'ciśnienie', 8.9), (888, 272, '(mm Hg)', 8.9), (902, 361, 'wiatr', 8.9), (888, 362, '(km/h)', 8.9),
                (902, 475, 'widzialność', 8.9), (888, 473, '(km)', 8.9), (902, 568, 'mgła', 8.9), (888, 563, '(frakcja)', 8.9)]:
    rot(x, y, s, z)

for x, y, s, r in [(288, 416, 'W', 0), (299, 407, 'N', 0), (304, 416, 'E', 90), (297, 424, 'S', 0),
                   (886, 416, 'W', 0), (897, 407, 'N', 0), (902, 417, 'E', 90), (896, 424, 'S', 0)]:
    fig.text(x/W, 1-y/H, s, color=NAVY, ha='center', va='center', rotation=r, fontsize=10)

RED = '#f00000'; BROWN = '#a52a2a'; GREEN = '#00a000'; BLUE = '#0000d0'; SLATE = '#6a5acd'; NV = '#000090'
left_labels = [
    (6, 15, 'Czas lokalny', 'black'), (6, 26, '(CET/CEST)', 'black'),
    (5, 43, 'Temperatura gruntu', BROWN), (27, 53, 'max/min', BROWN), (5, 64, 'Temperatura:', 'black'),
    (12, 77, 'punkt środkowy', RED), (28, 87, 'max/min', '#ffd8c8'), (9, 99, 'odczuwana', BLUE), (28, 109, 'max/min', '#a8dcff'),
    (5, 121, 'Temp. punktu rosy', SLATE), (5, 138, 'Opad powyżej skali', RED), (5, 152, 'Wilgotność względna', RHC),
    (5, 166, 'Wystąpienie burzy', 'black'), (5, 179, 'Deszcz: max', GREEN), (48, 190, 'średni', GREEN),
    (5, 201, 'Śnieg:', BLUE), (48, 201, 'max', BLUE), (48, 212, 'średni', BLUE),
    (5, 224, 'Wystąpienie opadu', RED), (5, 237, 'konwekcyjnego', RED),
    (5, 263, 'Ciśnienie', 'black'), (5, 276, 'zredukowane', 'black'), (5, 289, 'do poziomu morza', 'black'),
    (5, 318, 'Wiatr na 10m:', 'black'), (9, 334, 'poryw powyżej skali', RED), (9, 348, 'max porywy wiatru', RED),
    (9, 368, 'prędkość wiatru', NV), (9, 381, 'w środku obszaru', NV), (9, 410, 'kierunek wiatru', NV),
    (5, 429, 'Wierzchołek chmur', BROWN), (5, 444, 'Podstawa chmur*', 'black'), (5, 456, 'o pokryciu', 'black'),
    (11, 468, '> 7.9 okt.', 'black'), (11, 479, '> 6.5 okt.', '#606060'), (11, 490, '> 4.5 okt.', '#a0a0a0'),
    (11, 500, '> 2.5 okt.', '#d8d8d8'), (5, 526, 'Widzialność', ORANGE), (5, 543, 'Chmury:', 'black'),
    (10, 569, 'średnie', '#a0a0a0'), (10, 581, 'niskie', '#505050'), (10, 593, 'bardzo niskie', '#303030'),
    (5, 605, 'Mgła', '#ffb010'),
]
for x, y, s, c in left_labels:
    txt(x, y, s, c, size=LFS)
txt(5, 622, 'Czas uniwersalny (UTC)', 'black', size=8.7)
fig.text(11/W, 1-509.5/H, '> 0.1 okt.', color='white', ha='left', va='center', fontsize=LFS,
         bbox=dict(facecolor=SKY, edgecolor='none', pad=1.0))
fig.text(11/W, 1-556.5/H, 'wysokie', color='white', ha='left', va='center', fontsize=LFS,
         bbox=dict(facecolor=SKY, edgecolor='none', pad=1.0))

conn([68, 133, 156], [16, 16, 44])
conn([102, 120, 153], [44, 44, 100], BROWN)
conn([92, 115], [77, 77], RED, 1.1); conn([130, 135, 157], [76, 77, 102], RED)
conn([70, 128, 135], [99, 99, 100], BLUE)
conn([95, 128, 141], [121, 121, 113], SLATE)
conn([102, 137, 146], [138, 138, 146], RED)
conn([106, 112], [152, 152], RHC); conn([130, 143], [152, 163], RHC)
conn([93, 113], [166, 166]); conn([129, 138], [166, 172])
conn([71, 139], [179, 179], GREEN)
conn([79, 144], [190, 190], GREEN)
conn([70, 112], [202, 202], BLUE); conn([129, 160], [202, 172], BLUE)
conn([81, 133, 160], [212, 212, 183], BLUE)
conn([97, 140, 147], [225, 225, 220], RED)
conn([52, 135], [264, 264])
conn([113, 118], [334, 334], RED); conn([129, 138], [334, 316], RED)
conn([107, 128, 144], [348, 348, 340], RED)
conn([92, 135], [367, 367], NV)
conn([85, 135], [410, 410], NV)
conn([100, 123, 185], [430, 430, 447], BROWN)
conn([57, 132, 190], [469, 469, 456])
conn([57, 143], [480, 480], '#606060')
conn([55, 132, 140], [490, 490, 500], '#a0a0a0')
conn([55, 137], [500, 500], '#d8d8d8')
conn([55, 137], [509, 509], SKY); conn([55, 137], [511, 511], SKY)
conn([67, 128, 173], [527, 527, 465], ORANGE)
conn([53, 192], [556, 556], SKY); conn([53, 192], [558, 558], SKY)
conn([45, 193], [572, 572], '#a0a0a0')
conn([38, 122], [582, 582], '#505050')
conn([74, 140], [594, 594])
conn([28, 217, 219], [605, 605, 590], '#ffb010')
conn([140, 148, 157], [623, 623, 610])

fig.savefig('out.png', dpi=100, facecolor='white')
